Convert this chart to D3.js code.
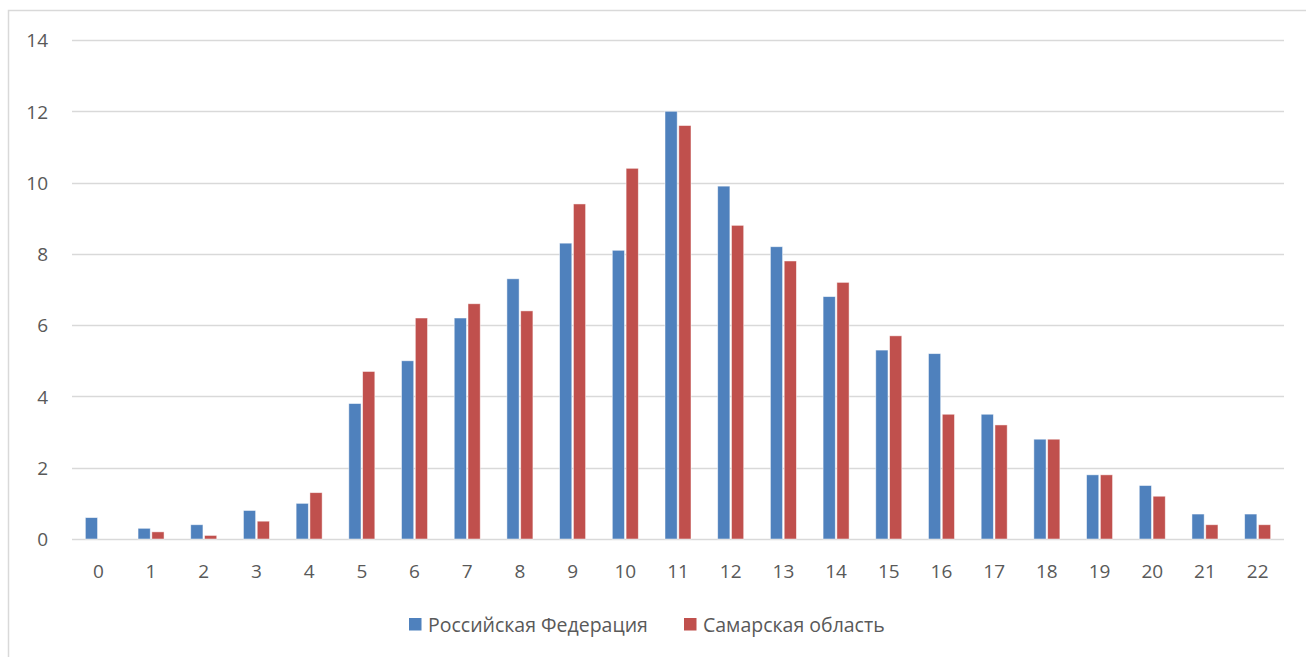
<!DOCTYPE html>
<html><head><meta charset="utf-8">
<script src="https://cdn.jsdelivr.net/npm/d3@7"></script>
<style>html,body{margin:0;padding:0;background:#fff;}svg{display:block;}</style>
</head><body>
<svg id="c" width="1306" height="657"></svg>
<script>
const categories = ["0","1","2","3","4","5","6","7","8","9","10","11","12","13","14","15","16","17","18","19","20","21","22"];
const seriesNames = ["Российская Федерация","Самарская область"];
const russia = [0.6,0.3,0.4,0.8,1.0,3.8,5.0,6.2,7.3,8.3,8.1,12.0,9.9,8.2,6.8,5.3,5.2,3.5,2.8,1.8,1.5,0.7,0.7];
const samara = [0,0.2,0.1,0.5,1.3,4.7,6.2,6.6,6.4,9.4,10.4,11.6,8.8,7.8,7.2,5.7,3.5,3.2,2.8,1.8,1.2,0.4,0.4];
const yTicks = [0,2,4,6,8,10,12,14];
const colors = ["#4f81bd","#c0504d"];

const svg = d3.select("#c");
const font = "'Open Sans', 'Liberation Sans', sans-serif";
const textColor = "#595959";
const fs = 19;
const legFs = 19.5;

svg.append("rect").attr("x",8.5).attr("y",10.5).attr("width",1400).attr("height",700)
  .attr("fill","#fff").attr("stroke","#d9d9d9").attr("stroke-width",1.5);

const pL = 72, pR = 1284, pT = 40, pB = 539;
const x = d3.scaleBand().domain(categories).range([pL,pR]);
const y = d3.scaleLinear().domain([0,14]).range([pB,pT]);

const grid = svg.append("g");
grid.selectAll("line").data(yTicks).join("line")
  .attr("x1",pL).attr("x2",pR)
  .attr("y1",d=>Math.round(y(d))+0.5).attr("y2",d=>Math.round(y(d))+0.5)
  .attr("stroke","#d9d9d9").attr("stroke-width",1.3);

const yAxis = d3.axisLeft(y).tickValues(yTicks).tickSize(0).tickPadding(0);
const gy = svg.append("g").attr("transform",`translate(${48},0)`).call(yAxis);
gy.select(".domain").remove();
gy.selectAll("text").attr("font-family",font).attr("font-size",fs).attr("fill",textColor).attr("dy","0.36em");

const xAxis = d3.axisBottom(x).tickSize(0).tickPadding(0);
const gx = svg.append("g").attr("transform",`translate(0,${578})`).call(xAxis);
gx.select(".domain").remove();
gx.selectAll("text").attr("font-family",font).attr("font-size",fs).attr("fill",textColor).attr("dy","0").attr("y",0);

const barW = 12.2, gap = 1.6;
const data = [russia, samara];
data.forEach((vals, si) => {
  svg.append("g").selectAll("rect").data(vals).join("rect")
    .attr("x",(d,i)=> x(categories[i]) + x.bandwidth()/2 + (si===0 ? -gap/2 - barW : gap/2))
    .attr("width",barW)
    .attr("y",d=>y(d))
    .attr("height",d=>Math.max(0,y(0)-y(d)))
    .attr("fill",colors[si])
    .attr("stroke", d=> d>0 ? "#ffffff" : "none").attr("stroke-width",0.8).attr("stroke-opacity",0.6);
});

const legend = svg.append("g");
const legX = [409, 684];
seriesNames.forEach((n,i)=>{
  legend.append("rect").attr("x",legX[i]).attr("y",618).attr("width",12.5).attr("height",12.5).attr("fill",colors[i]);
  legend.append("text").attr("x",legX[i]+19).attr("y",631.5).text(n)
    .attr("font-family",font).attr("font-size",legFs).attr("fill",textColor);
});
</script>
</body></html>
